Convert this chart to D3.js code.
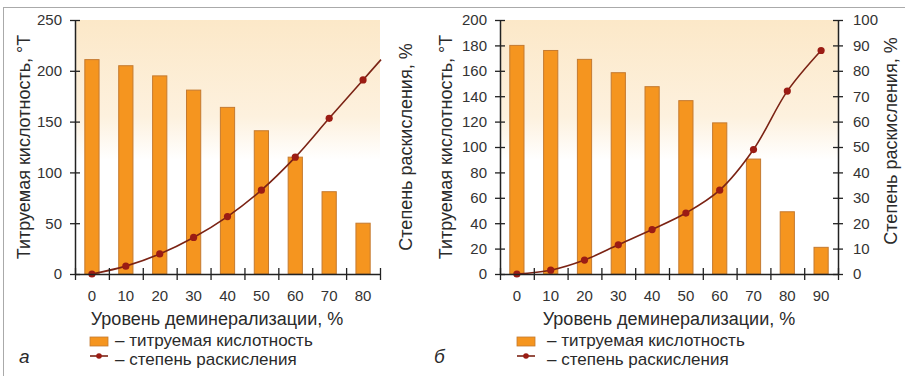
<!DOCTYPE html>
<html>
<head>
<meta charset="utf-8">
<script src="https://cdn.jsdelivr.net/npm/d3@7"></script>
<style>
  body { margin: 0; background: #fff; }
  text { font-family: "Liberation Sans", Arial, sans-serif; fill: #2a2a2a; }
  .tick text { font-size: 15px; fill: #333; }
</style>
</head>
<body>
<svg id="chart" width="905" height="380"></svg>
<script>
// panel "а"
const levelsA = [0, 10, 20, 30, 40, 50, 60, 70, 80];
const acidityA = [211, 205, 195, 181, 164, 141, 115, 81, 50];
const deoxA = [0, 3.1, 7.9, 14.4, 22.6, 33, 46, 61.3, 76.4];
const acidTicksA = [0, 50, 100, 150, 200, 250];

// panel "б"
const levelsB = [0, 10, 20, 30, 40, 50, 60, 70, 80, 90];
const acidityB = [180, 176, 169, 158.5, 147.5, 136.5, 119, 90.5, 49, 21];
const deoxB = [0, 1.5, 5.5, 11.5, 17.5, 24, 33, 49, 72, 88];
const acidTicksB = [0, 20, 40, 60, 80, 100, 120, 140, 160, 180, 200];
const deoxTicksB = [0, 10, 20, 30, 40, 50, 60, 70, 80, 90, 100];

const acidLabel = "Титруемая кислотность, °Т";
const deoxLabel = "Степень раскисления, %";
const xLabel = "Уровень деминерализации, %";
const legendLabels = ["– титруемая кислотность", "– степень раскисления"];

const barColor = "#f5951f", barStroke = "#c47a30";
const lineColor = "#7b2314", dotColor = "#9b1c14";

const svg = d3.select("#chart");

// gradient background of the plot areas
const grad = svg.append("defs").append("linearGradient")
  .attr("id", "bg").attr("x1", 0).attr("y1", 0).attr("x2", 0).attr("y2", 1);
grad.append("stop").attr("offset", "0%").attr("stop-color", "#fce8c8");
grad.append("stop").attr("offset", "38%").attr("stop-color", "#fdf1de");
grad.append("stop").attr("offset", "55%").attr("stop-color", "#ffffff");

// frame of the figure
svg.append("line").attr("x1", 3).attr("x2", 905).attr("y1", 7.5).attr("y2", 7.5)
  .attr("stroke", "#aaa").attr("stroke-width", 1);
svg.append("line").attr("x1", 3.5).attr("x2", 3.5).attr("y1", 7).attr("y2", 376)
  .attr("stroke", "#aaa").attr("stroke-width", 1);

function drawPanel(p) {
  const top = 20, bottom = 274;
  const g = svg.append("g");

  const x = d3.scaleBand().domain(p.levels).range([p.x0, p.x1]);
  const yA = d3.scaleLinear().domain([0, p.acidMax]).range([bottom, top]);
  const yD = d3.scaleLinear().domain([0, 100]).range([bottom, top]);

  g.append("rect")
    .attr("x", p.x0).attr("y", top)
    .attr("width", p.x1 - p.x0).attr("height", bottom - top)
    .attr("fill", "url(#bg)");

  const barW = x.bandwidth() * 0.42;
  g.selectAll(".bar")
    .data(p.levels)
    .enter()
    .append("rect")
    .attr("class", "bar")
    .attr("x", (d) => x(d) + (x.bandwidth() - barW) / 2)
    .attr("y", (d, i) => yA(p.acidity[i]))
    .attr("width", barW)
    .attr("height", (d, i) => bottom - yA(p.acidity[i]))
    .attr("fill", barColor)
    .attr("stroke", barStroke)
    .attr("stroke-width", 1);

  // line of deoxidation degree
  const pts = p.levels.map((d, i) => [x(d) + x.bandwidth() / 2, yD(p.deox[i])]);
  if (p.extend) {
    const a = pts[pts.length - 2], b = pts[pts.length - 1];
    const k = (b[1] - a[1]) / (b[0] - a[0]);
    pts.push([p.x1 + 1, b[1] + k * (p.x1 + 1 - b[0])]);
  }
  g.append("path")
    .attr("d", d3.line().curve(d3.curveCatmullRom.alpha(0.5))(pts))
    .attr("fill", "none")
    .attr("stroke", lineColor)
    .attr("stroke-width", 1.6);
  g.selectAll(".dot")
    .data(p.levels)
    .enter()
    .append("circle")
    .attr("class", "dot")
    .attr("cx", (d) => x(d) + x.bandwidth() / 2)
    .attr("cy", (d, i) => yD(p.deox[i]))
    .attr("r", 3.6)
    .attr("fill", dotColor);

  // left axis
  const ax = g.append("g")
    .attr("transform", `translate(${p.x0},0)`)
    .call(d3.axisLeft(yA).tickValues(p.acidTicks).tickSize(5).tickPadding(8).tickSizeOuter(0));
  ax.selectAll(".tick line").attr("x2", 5).attr("x1", -5);

  // right axis (panel б only)
  if (p.deoxTicks) {
    const ar = g.append("g")
      .attr("transform", `translate(${p.x1},0)`)
      .call(d3.axisRight(yD).tickValues(p.deoxTicks).tickSize(5).tickPadding(10).tickSizeOuter(0));
    ar.selectAll(".tick line").attr("x1", -5).attr("x2", 5);
  }

  // bottom axis: labels at band centres, ticks at band edges
  g.append("g")
    .attr("transform", `translate(0,${bottom})`)
    .call(d3.axisBottom(x).tickSize(0).tickPadding(16))
    .call((s) => s.select(".domain").remove());
  const edges = d3.scaleLinear().domain([0, p.levels.length]).range([p.x0, p.x1]);
  g.append("g")
    .attr("transform", `translate(0,${bottom})`)
    .call(d3.axisBottom(edges).ticks(p.levels.length).tickFormat("").tickSize(6).tickSizeOuter(0))
    .call((s) => s.selectAll(".tick line").attr("y1", -6).attr("y2", 6));

  g.selectAll(".domain").attr("stroke", "#222").attr("stroke-width", 1.5);
  g.selectAll(".tick line").attr("stroke", "#222").attr("stroke-width", 1.3);

  // titles
  g.append("text")
    .attr("transform", `translate(${p.leftTitleX},147) rotate(-90)`)
    .attr("text-anchor", "middle").style("font-size", "18px")
    .text(acidLabel);
  g.append("text")
    .attr("transform", `translate(${p.rightTitleX},${p.rightTitleY}) rotate(-90)`)
    .attr("text-anchor", "middle").style("font-size", "18px")
    .text(deoxLabel);
  g.append("text")
    .attr("x", p.xTitleX).attr("y", 325)
    .attr("text-anchor", "middle").style("font-size", "18px")
    .text(xLabel);

  // legend
  const lx = p.legendX;
  g.append("rect")
    .attr("x", lx).attr("y", 337).attr("width", 18).attr("height", 9)
    .attr("fill", barColor).attr("stroke", barStroke).attr("stroke-width", 0.8);
  g.append("line")
    .attr("x1", lx).attr("x2", lx + 18).attr("y1", 356).attr("y2", 356)
    .attr("stroke", lineColor).attr("stroke-width", 1.6);
  g.append("circle").attr("cx", lx + 9).attr("cy", 356).attr("r", 2.8).attr("fill", dotColor);
  g.selectAll(".leg")
    .data(legendLabels)
    .enter()
    .append("text")
    .attr("x", lx + p.legendGap)
    .attr("y", (d, i) => 346 + i * 19)
    .style("font-size", "17px")
    .text((d) => d);

  g.append("text")
    .attr("x", p.letterX).attr("y", 363)
    .style("font-size", "19px").style("font-style", "italic")
    .text(p.letter);
}

drawPanel({
  levels: levelsA, acidity: acidityA, deox: deoxA,
  acidMax: 250, acidTicks: acidTicksA, deoxTicks: null,
  x0: 75, x1: 380, extend: true,
  leftTitleX: 30, rightTitleX: 412, rightTitleY: 147, xTitleX: 217,
  legendX: 90, legendGap: 25, letter: "а", letterX: 19
});

drawPanel({
  levels: levelsB, acidity: acidityB, deox: deoxB,
  acidMax: 200, acidTicks: acidTicksB, deoxTicks: deoxTicksB,
  x0: 500, x1: 838, extend: false,
  leftTitleX: 452, rightTitleX: 897, rightTitleY: 141, xTitleX: 669,
  legendX: 517, legendGap: 30, letter: "б", letterX: 434
});
</script>
</body>
</html>
